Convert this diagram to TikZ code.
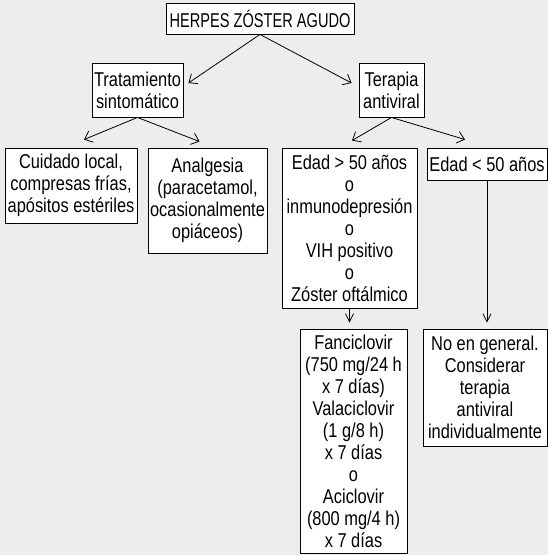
\documentclass[tikz,border=0pt]{standalone}
\usepackage{fontspec}
\setmainfont{Liberation Sans}[FakeStretch=0.82]
\newfontfamily\headfont{Liberation Sans}[FakeStretch=0.73]
\usetikzlibrary{arrows.meta}
\definecolor{paper}{HTML}{EDEDED}
\tikzset{
  box/.style={draw=black, line width=0.9pt, fill=white, inner sep=0pt,
    align=center, font=\fontsize{20}{22}\selectfont},
  link/.style={line width=0.8pt, -{Straight Barb[length=7pt,width=12pt,line width=0.8pt]}},
  drop/.style={line width=0.8pt, -{Straight Barb[length=8pt,width=8pt,line width=0.8pt]}}
}
\begin{document}
\begin{tikzpicture}[x=1pt,y=1pt]
  \fill[paper] (0,0) rectangle (548,-555);
  \useasboundingbox (0,0) rectangle (548,-555);

  % first level
  \node[box, minimum width=188, minimum height=31, font=\headfont\fontsize{20}{22}\selectfont]
    (herpes) at (260,-18.5) {HERPES ZÓSTER AGUDO};

  % second level
  \node[box, minimum width=91, minimum height=54] (sinto) at (137.5,-90)
    {Tratamiento\\sintomático};
  \node[box, minimum width=65, minimum height=54] (antiv) at (391.5,-90)
    {Terapia\\antiviral};

  % third level
  \node[box, minimum width=132, minimum height=75] (cuidado) at (71,-185.5)
    {Cuidado local,\\compresas frías,\\apósitos estériles};
  \node[box, minimum width=119, minimum height=105] (analg) at (207.5,-200.5)
    {Analgesia\\(paracetamol,\\ocasionalmente\\opiáceos)};
  \node[box, minimum width=135, minimum height=160] (mayor) at (349.5,-228)
    {Edad > 50 años\\o\\inmunodepresión\\o\\VIH positivo\\o\\Zóster oftálmico};
  \node[box, minimum width=120, minimum height=32] (menor) at (487,-164)
    {Edad < 50 años};

  % fourth level
  \node[box, minimum width=107, minimum height=224] (farmacos) at (353.5,-441)
    {Fanciclovir\\(750 mg/24 h\\x 7 días)\\Valaciclovir\\(1 g/8 h)\\x 7 días\\o\\Aciclovir\\(800 mg/4 h)\\x 7 días};
  \node[box, minimum width=124, minimum height=117] (noen) at (485,-387.5)
    {No en general.\\Considerar\\terapia\\antiviral\\individualmente};

  % connectors
  \draw[link] (herpes.south) -- ([xshift=5pt,yshift=7pt]sinto.east);
  \draw[link] (herpes.south) -- ([xshift=-7pt,yshift=7pt]antiv.west);
  \draw[link] (sinto.south) -- ([xshift=13pt,yshift=8pt]cuidado.north);
  \draw[link] (sinto.south) -- ([xshift=-8pt,yshift=6pt]analg.north);
  \draw[link] (antiv.south) -- ([xshift=2.5pt,yshift=7pt]mayor.north);
  \draw[link] (antiv.south) -- ([xshift=-22pt,yshift=8pt]menor.north);
  \draw[drop] (mayor.south) -- ([yshift=6pt]mayor.south |- farmacos.north);
  \draw[drop] (menor.south) -- ([yshift=6pt]menor.south |- noen.north);
\end{tikzpicture}
\end{document}
